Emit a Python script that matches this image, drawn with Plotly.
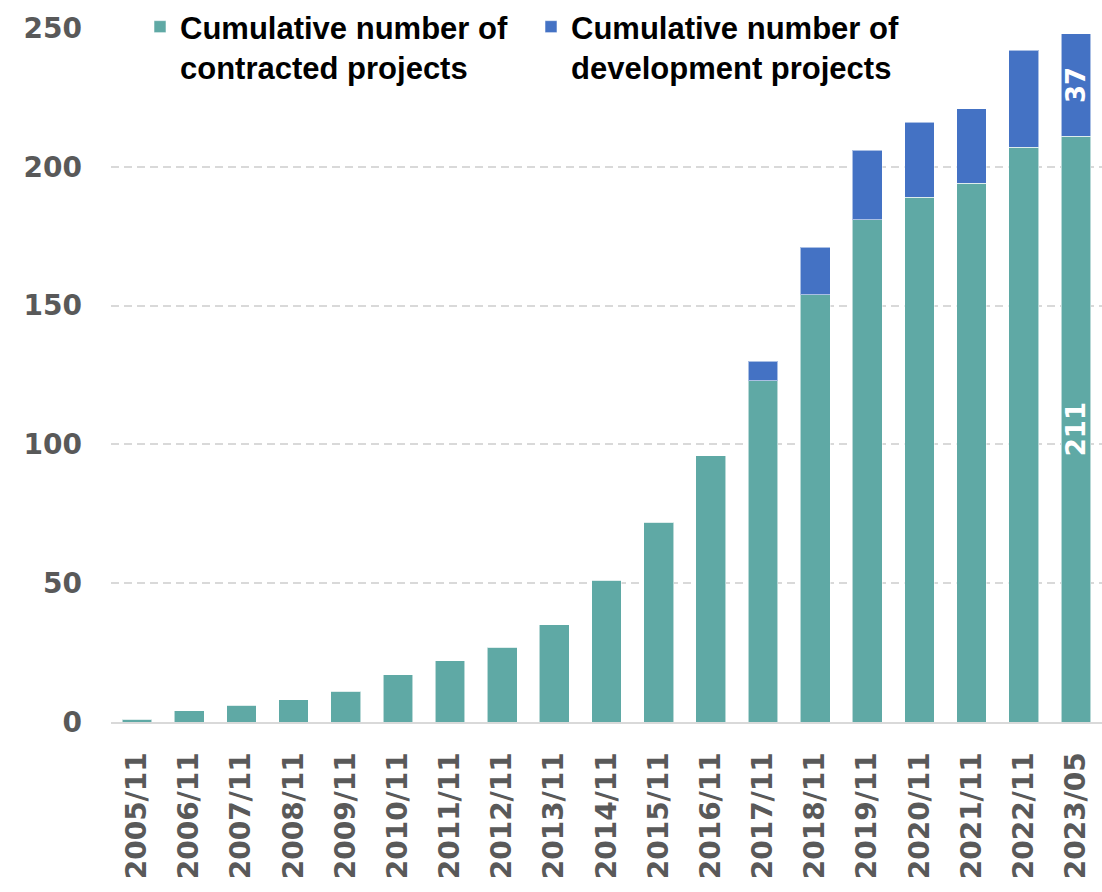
import plotly.graph_objects as go

categories = ["2005/11", "2006/11", "2007/11", "2008/11", "2009/11", "2010/11",
              "2011/11", "2012/11", "2013/11", "2014/11", "2015/11", "2016/11",
              "2017/11", "2018/11", "2019/11", "2020/11", "2021/11", "2022/11",
              "2023/05"]
contracted = [1, 4, 6, 8, 11, 17, 22, 27, 35, 51, 72, 96, 123, 154, 181, 189, 194, 207, 211]
development = [0, 0, 0, 0, 0, 0, 0, 0, 0, 0, 0, 0, 7, 17, 25, 27, 27, 35, 37]
y_ticks = [0, 50, 100, 150, 200, 250]

last = len(categories) - 1
contracted_text = [str(v) if i == last else "" for i, v in enumerate(contracted)]
development_text = [str(v) if i == last else "" for i, v in enumerate(development)]

GREEN = "#5FA9A5"
BLUE = "#4472C4"
TICK_FONT = dict(family="DejaVu Sans", size=28, color="#595959", weight="bold")
LABEL_FONT = dict(family="DejaVu Sans", size=26, color="white", weight="bold")

fig = go.Figure()
fig.add_trace(go.Bar(
    x=categories, y=contracted, name="Cumulative number of<br>contracted projects",
    marker=dict(color=GREEN, line=dict(color="rgba(255,255,255,0.55)", width=1)),
    text=contracted_text, textposition="inside", insidetextanchor="middle",
    textangle=-90, textfont=LABEL_FONT, constraintext="none",
    hoverinfo="x+y",
))
fig.add_trace(go.Bar(
    x=categories, y=development, name="Cumulative number of<br>development projects",
    marker=dict(color=BLUE, line=dict(color="rgba(255,255,255,0.55)", width=1)),
    text=development_text, textposition="inside", insidetextanchor="middle",
    textangle=-90, textfont=LABEL_FONT, constraintext="none",
    hoverinfo="x+y",
))

fig.update_layout(
    width=1102, height=892,
    margin=dict(l=111, r=0, t=28, b=170, autoexpand=False),
    barmode="stack", bargap=0.43,
    plot_bgcolor="white", paper_bgcolor="white",
    showlegend=True,
    legend=dict(
        orientation="h", x=140 / 1102, xanchor="left", y=1.0, yanchor="top",
        xref="container", yref="container",
        font=dict(family="Liberation Sans", size=31, color="black", weight="bold"),
        bgcolor="white", borderwidth=0, valign="top",
        entrywidth=346, entrywidthmode="pixels",
        traceorder="normal",
    ),
    xaxis=dict(
        type="category", tickangle=-90, tickfont=TICK_FONT,
        showline=True, linecolor="#D9D9D9", linewidth=2,
        showgrid=False, ticks="", ticklabelstandoff=17, automargin=False,
        range=[-0.5, last + 0.5],
    ),
    yaxis=dict(
        range=[0, 250], tickvals=y_ticks, tickfont=TICK_FONT,
        showgrid=True, gridcolor="#D9D9D9", griddash="8px,5px", gridwidth=1.5,
        zeroline=False, showline=False, ticks="", ticklabelstandoff=28,
        automargin=False,
    ),
)

fig.write_html("out.html")
